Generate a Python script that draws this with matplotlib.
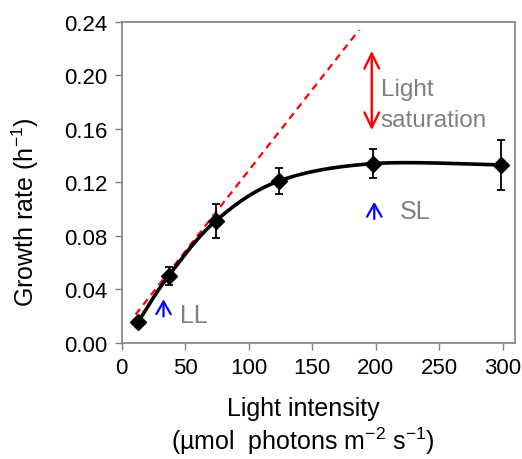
import numpy as np
import matplotlib
matplotlib.use("Agg")
import matplotlib.pyplot as plt

plt.rcParams['font.family'] = ['Liberation Sans', 'DejaVu Sans']

# Growth rate vs light intensity
light = [13, 37, 74, 124, 198, 299]
rate = [0.0155, 0.050, 0.091, 0.121, 0.134, 0.133]
rate_err = [0.002, 0.0065, 0.0125, 0.0096, 0.0107, 0.0187]

# initial-slope line (red dashed)
fit_x = [11, 187]
fit_y = [0.021, 0.234]

xticks = [0, 50, 100, 150, 200, 250, 300]
yticks = [0.00, 0.04, 0.08, 0.12, 0.16, 0.20, 0.24]

XMAX, YMAX = 310, 0.24


def smooth(x, y, n=40):
    # Excel-style smoothed line: parametric Catmull-Rom bezier, in normalised axis space
    p = np.column_stack([np.asarray(x, float) / XMAX, np.asarray(y, float) / YMAX])
    p = np.vstack([p[0], p, p[-1]])
    t = np.linspace(0, 1, n)[:, None]
    segs = []
    for i in range(1, len(p) - 2):
        b0 = p[i]
        b3 = p[i + 1]
        b1 = b0 + (p[i + 1] - p[i - 1]) / 6
        b2 = b3 - (p[i + 2] - p[i]) / 6
        segs.append((1 - t)**3 * b0 + 3 * (1 - t)**2 * t * b1 + 3 * (1 - t) * t**2 * b2 + t**3 * b3)
    c = np.vstack(segs)
    return c[:, 0] * XMAX, c[:, 1] * YMAX


fig = plt.figure(figsize=(5.22, 4.6), dpi=100)
ax = fig.add_axes([0.233, 0.253, 0.754, 0.697])

ax.plot(fit_x, fit_y, color='red', linestyle='--', linewidth=1.6, dashes=(3.2, 2.4))

sx, sy = smooth(light, rate)
ax.plot(sx, sy, color='black', linewidth=2.6)
ax.errorbar(light, rate, yerr=rate_err, fmt='D', color='black', markersize=8.5,
            ecolor='black', elinewidth=1.3, capsize=3, capthick=1.3)

# red double arrow for light saturation
ax.annotate('', xy=(197, 0.2205), xytext=(197, 0.157),
            arrowprops=dict(arrowstyle='<->, head_length=0.45, head_width=0.22',
                            color='red', lw=1.7, mutation_scale=24))
ax.text(204, 0.190, 'Light', color='#7f7f7f', fontsize=17.5, va='center', ha='left')
ax.text(204, 0.167, 'saturation', color='#7f7f7f', fontsize=17.5, va='center', ha='left')

# blue arrows for LL and SL
ax.annotate('', xy=(33, 0.0345), xytext=(33, 0.0175),
            arrowprops=dict(arrowstyle='->, head_length=0.35, head_width=0.2',
                            color='blue', lw=1.6, mutation_scale=26))
ax.text(46, 0.0205, 'LL', color='#7f7f7f', fontsize=18, va='center', ha='left')
ax.annotate('', xy=(199, 0.1075), xytext=(199, 0.0905),
            arrowprops=dict(arrowstyle='->, head_length=0.35, head_width=0.2',
                            color='blue', lw=1.6, mutation_scale=26))
ax.text(219, 0.0985, 'SL', color='#7f7f7f', fontsize=18, va='center', ha='left')

ax.set_xlim(0, XMAX)
ax.set_ylim(0, YMAX)
ax.set_xticks(xticks)
ax.set_yticks(yticks)
ax.set_yticklabels([f"{v:.2f}" for v in yticks])
ax.tick_params(direction='out', length=5, width=1, color='#808080', labelsize=16, pad=5)
for s in ax.spines.values():
    s.set_color('#808080')
    s.set_linewidth(1.2)

ax.set_xlabel("Light intensity\n(µmol  photons m$^{\\mathregular{-2}}$ s$^{\\mathregular{-1}}$)",
              fontsize=18, linespacing=1.2)
ax.xaxis.set_label_coords(0.461, -0.165)
ax.set_ylabel("Growth rate (h$^{\\mathregular{-1}}$)", fontsize=18)
ax.yaxis.set_label_coords(-0.205, 0.41)

fig.savefig("out.png", dpi=100)
